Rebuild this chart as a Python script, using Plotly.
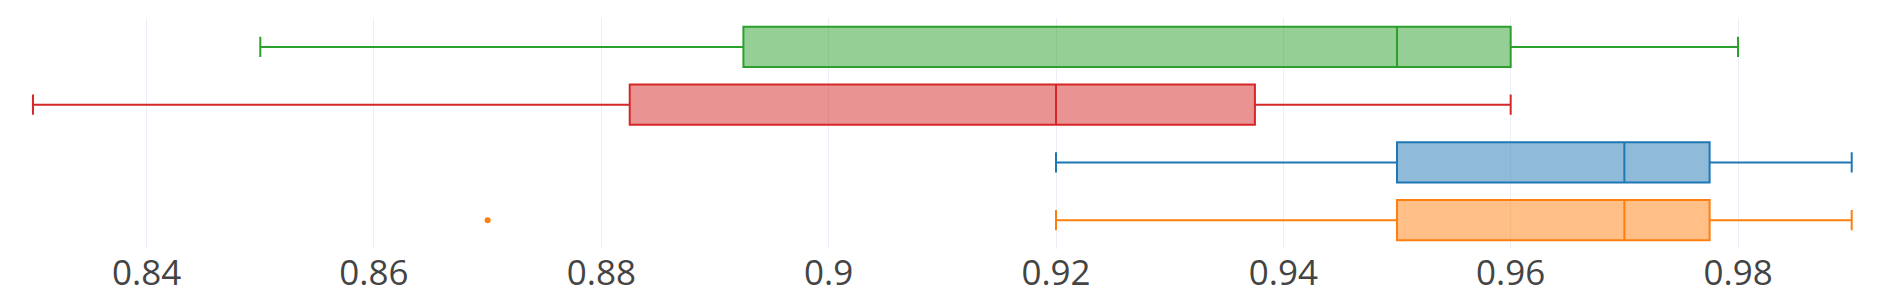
import plotly.graph_objects as go

# categories from bottom to top
categories = ["Model D", "Model C", "Model B", "Model A"]
colors = ["#ff7f0e", "#1f77b4", "#d62728", "#2ca02c"]

lower_fence = [0.92, 0.92, 0.83, 0.85]
q1_vals = [0.95, 0.95, 0.8825, 0.8925]
median_vals = [0.97, 0.97, 0.92, 0.95]
q3_vals = [0.9775, 0.9775, 0.9375, 0.96]
upper_fence = [0.99, 0.99, 0.96, 0.98]

# outliers (category, value)
outlier_cat = ["Model D"]
outlier_val = [0.87]

fig = go.Figure()
for i, cat in enumerate(categories):
    fig.add_trace(go.Box(
        y=[cat],
        q1=[q1_vals[i]], median=[median_vals[i]], q3=[q3_vals[i]],
        lowerfence=[lower_fence[i]], upperfence=[upper_fence[i]],
        orientation="h",
        name=cat,
        width=0.7,
        whiskerwidth=0.5,
        marker_color=colors[i],
        line=dict(color=colors[i], width=2),
        boxpoints=False,
    ))

fig.add_trace(go.Scatter(
    x=outlier_val, y=outlier_cat, mode="markers",
    marker=dict(color=colors[0], size=6),
    showlegend=False, hoverinfo="x",
))

fig.update_layout(
    template="plotly_white",
    width=1877, height=299,
    margin=dict(l=2, r=10, t=10, b=58),
    showlegend=False,
    font=dict(family="Open Sans", color="#444"),
    xaxis=dict(range=[0.82798, 0.99205], dtick=0.02, tick0=0.84,
               tickfont=dict(size=35), showgrid=True, zeroline=False),
    yaxis=dict(categoryorder="array", categoryarray=categories,
               showticklabels=False, showgrid=False, zeroline=False,
               range=[-0.5, 3.5]),
)

fig.write_html("out.html")
